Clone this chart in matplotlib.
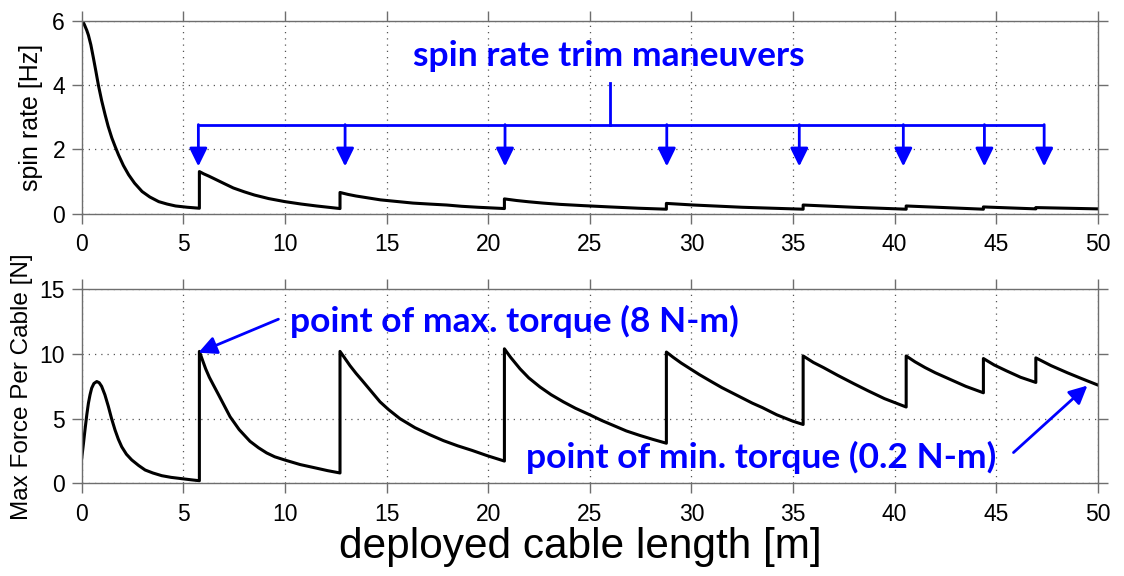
import matplotlib
matplotlib.use("Agg")
import matplotlib.pyplot as plt

# spin rate [Hz] vs deployed cable length [m] (repeated x = trim maneuver jump)
spin_x = [0, 0.08, 0.15, 0.25, 0.33, 0.45, 0.57, 0.7, 0.82, 0.98, 1.15, 1.3, 1.48, 1.65, 1.81,
          2.05, 2.31, 2.6, 2.97, 3.35, 3.79, 4.2, 4.62, 5.2, 5.79,
          5.79, 6.0, 6.25, 6.48, 7.0, 7.46, 8.0, 8.5, 9.2, 10, 10.8, 11.56, 12.71,
          12.71, 13.1, 13.5, 14.1, 14.7, 15.5, 16.3, 17.1, 17.96, 18.7, 19.5, 20.8,
          20.8, 21.4, 22, 22.7, 23.54, 24.7, 26, 27.4, 28.77,
          28.77, 30.1, 32.5, 35.5,
          35.5, 38, 40.57,
          40.57, 44.37,
          44.37, 46.95,
          46.95, 50]
spin_y = [6.0, 5.95, 5.85, 5.7, 5.55, 5.25, 4.86, 4.42, 4.0, 3.52, 3.08, 2.72, 2.36, 2.08, 1.83,
          1.5, 1.21, 0.95, 0.69, 0.52, 0.375, 0.3, 0.24, 0.2, 0.17,
          1.31, 1.24, 1.17, 1.1, 0.94, 0.8, 0.68, 0.58, 0.47, 0.375, 0.3, 0.24, 0.16,
          0.66, 0.6, 0.55, 0.49, 0.43, 0.38, 0.33, 0.3, 0.27, 0.23, 0.2, 0.16,
          0.46, 0.41, 0.37, 0.33, 0.29, 0.25, 0.21, 0.17, 0.14,
          0.32, 0.27, 0.2, 0.14,
          0.27, 0.2, 0.14,
          0.24, 0.14,
          0.21, 0.15,
          0.19, 0.15]

# max force per cable [N]
force_x = [0, 0.08, 0.16, 0.25, 0.33, 0.41, 0.49, 0.6, 0.74, 0.86, 0.98, 1.14, 1.31, 1.47, 1.64,
           1.8, 1.97, 2.2, 2.46, 2.8, 3.12, 3.5, 3.94, 4.4, 4.92, 5.4, 5.79,
           5.79, 5.95, 6.1, 6.28, 6.48, 6.7, 6.9, 7.1, 7.3, 7.75, 8.28, 8.7, 9.1, 9.5, 10,
           10.75, 11.56, 12.1, 12.71,
           12.71, 12.9, 13.2, 13.5, 13.8, 14.2, 14.68, 15.1, 15.66, 16.4, 17.14, 17.8, 18.5,
           19.2, 19.93, 20.8,
           20.8, 21.1, 21.57, 22.0, 22.55, 23.1, 23.7, 24.3, 25, 25.6, 26.2, 26.8, 27.47,
           28.1, 28.77,
           28.77, 29.1, 29.5, 30.0, 30.4, 31.0, 31.5, 32.0, 32.5, 33.0, 33.5, 34.2, 35, 35.5,
           35.5, 36.0, 36.5, 37.2, 38, 38.7, 39.5, 40.57,
           40.57, 41.0, 41.5, 42.0, 42.5, 43.0, 43.5, 44.37,
           44.37, 44.9, 45.5, 46.2, 46.95,
           46.95, 47.7, 48.5, 49.2, 50]
force_y = [1.94, 3.0, 4.12, 5.3, 6.2, 6.85, 7.36, 7.72, 7.87, 7.78, 7.5, 6.85, 5.95, 5.0, 4.12,
           3.42, 2.82, 2.25, 1.81, 1.38, 1.03, 0.8, 0.59, 0.46, 0.36, 0.27, 0.2,
           10.2, 9.5, 8.85, 8.2, 7.6, 6.95, 6.35, 5.75, 5.15, 4.15, 3.25, 2.75, 2.35, 2.05, 1.8,
           1.45, 1.17, 0.98, 0.8,
           10.2, 9.78, 9.1, 8.5, 7.95, 7.2, 6.3, 5.7, 5.0, 4.3, 3.75, 3.3, 2.9,
           2.55, 2.15, 1.72,
           10.4, 9.75, 8.85, 8.15, 7.45, 6.85, 6.3, 5.8, 5.3, 4.85, 4.45, 4.05, 3.7,
           3.4, 3.1,
           10.15, 9.75, 9.3, 8.8, 8.4, 7.85, 7.4, 7.0, 6.6, 6.2, 5.85, 5.3, 4.8, 4.55,
           9.85, 9.35, 8.95, 8.35, 7.7, 7.15, 6.55, 5.9,
           9.85, 9.4, 8.95, 8.55, 8.2, 7.85, 7.5, 7.0,
           9.65, 9.15, 8.7, 8.2, 7.8,
           9.7, 9.1, 8.55, 8.1, 7.6]

# where the blue arrows point
trim_x = [5.74, 12.96, 20.83, 28.79, 35.31, 40.43, 44.42, 47.36]

xticks = [0, 5, 10, 15, 20, 25, 30, 35, 40, 45, 50]
blue = "#0000ff"
frame = "#6e6e6e"

plt.rcParams["font.family"] = ["Liberation Sans", "DejaVu Sans"]

fig = plt.figure(figsize=(11.24, 5.76), dpi=100)
ax1 = fig.add_axes([0.0727, 0.629, 0.904, 0.335])
ax2 = fig.add_axes([0.0727, 0.1609, 0.904, 0.3368])

for ax in (ax1, ax2):
    ax.set_xlim(0, 50)
    ax.set_xticks(xticks)
    ax.grid(True, linestyle=(0, (1, 4)), color="#555555", lw=0.9)
    ax.tick_params(direction="out", length=7, width=1, color=frame, labelsize=16.5,
                   top=True, right=True, pad=5)
    ax.tick_params(axis="x", pad=7)
    for s in ax.spines.values():
        s.set_color(frame)
        s.set_linewidth(1)

ax1.plot(spin_x, spin_y, color="black", lw=2.2)
ax1.set_ylim(0, 6)
ax1.set_yticks([0, 2, 4, 6])
ax1.set_ylabel("spin rate [Hz]", fontsize=18, labelpad=7)

ax2.plot(force_x, force_y, color="black", lw=2.2)
ax2.set_ylim(0, 15)
ax2.set_yticks([0, 5, 10, 15])
ax2.set_ylabel("Max Force Per Cable [N]", fontsize=17.5, labelpad=5)
ax2.set_xlabel("deployed cable length [m]", fontsize=30.5, labelpad=1)
ax2.xaxis.label.set_x(0.491)

# bracket of trim maneuver arrows
bar_y, tip_y = 2.77, 1.47
ax1.plot([trim_x[0], trim_x[-1]], [bar_y, bar_y], color=blue, lw=2, solid_capstyle="butt")
ax1.plot([25.99, 25.99], [bar_y, 4.05], color=blue, lw=2)
for x in trim_x:
    ax1.annotate("", xy=(x, tip_y), xytext=(x, bar_y),
                 arrowprops=dict(arrowstyle="-|>,head_length=0.55,head_width=0.27",
                                 mutation_scale=20, color=blue, lw=2,
                                 shrinkA=0, shrinkB=0))
ax1.text(25.93, 4.9, "spin rate trim maneuvers", color=blue, fontsize=25.5,
         fontweight="bold", family=["Lato", "DejaVu Sans"], ha="center", va="center")

arrow = dict(arrowstyle="-|>,head_length=0.55,head_width=0.27", mutation_scale=20,
             color=blue, lw=2, shrinkA=0, shrinkB=0)
ax2.annotate("", xy=(5.74, 10.1), xytext=(9.68, 12.69), arrowprops=arrow)
ax2.text(21.3, 12.53, "point of max. torque (8 N-m)", color=blue, fontsize=25.5,
         fontweight="bold", family=["Lato", "DejaVu Sans"], ha="center", va="center")
ax2.annotate("", xy=(49.49, 7.56), xytext=(45.85, 2.38), arrowprops=arrow)
ax2.text(33.43, 2.04, "point of min. torque (0.2 N-m)", color=blue, fontsize=25.5,
         fontweight="bold", family=["Lato", "DejaVu Sans"], ha="center", va="center")

fig.savefig("out.png", dpi=100)
